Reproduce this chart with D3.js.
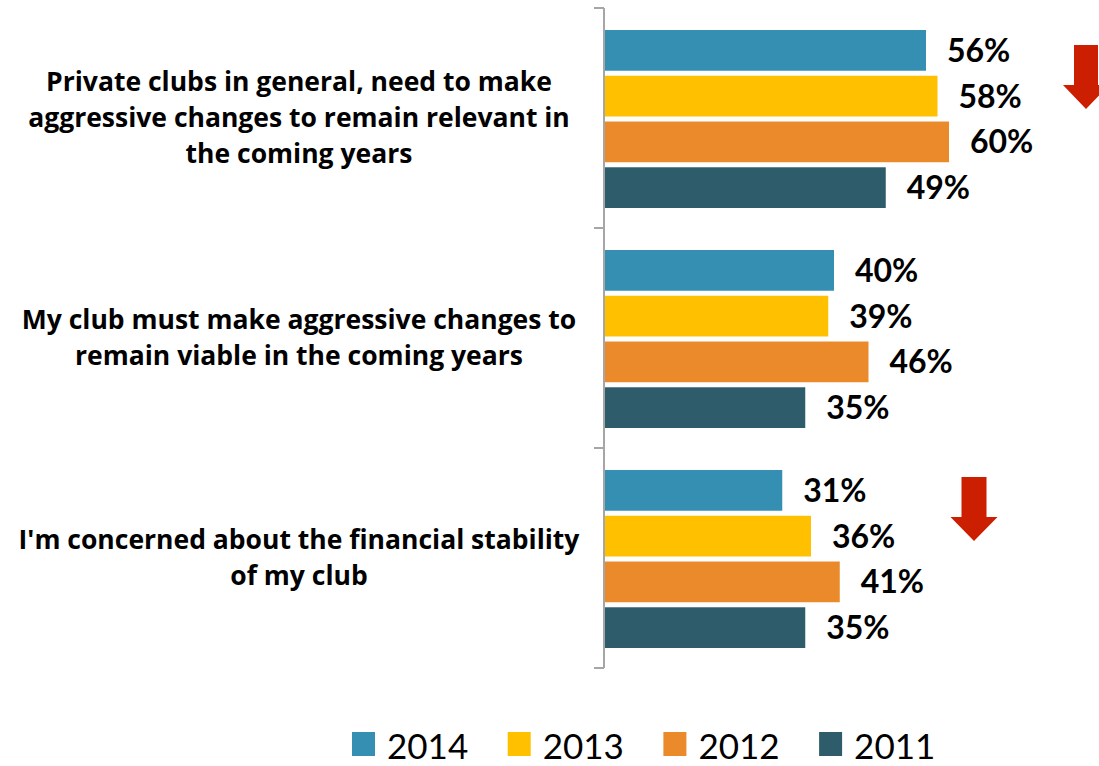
<!DOCTYPE html>
<html>
<head>
<meta charset="utf-8">
<script src="https://cdn.jsdelivr.net/npm/d3@7"></script>
<style>
  html, body { margin: 0; padding: 0; background: #fff; }
  svg { display: block; }
</style>
</head>
<body>
<svg id="chart" width="1099" height="766"></svg>
<script>
// Survey statements (top to bottom)
const categories = [
  "Private clubs in general, need to make aggressive changes to remain relevant in the coming years",
  "My club must make aggressive changes to remain viable in the coming years",
  "I'm concerned about the financial stability of my club"
];
// Wrapped label lines for each statement
const categoryLines = [
  ["Private clubs in general, need to make", "aggressive changes to remain relevant in", "the coming years"],
  ["My club must make aggressive changes to", "remain viable in the coming years"],
  ["I'm concerned about the financial stability", "of my club"]
];
const years = ["2014", "2013", "2012", "2011"];
const values2014 = [56, 40, 31];
const values2013 = [58, 39, 36];
const values2012 = [60, 46, 41];
const values2011 = [49, 35, 35];
// Statements flagged with a downward trend arrow
const declining = [true, false, true];

const seriesValues = [values2014, values2013, values2012, values2011];
const colors = ["#358FB2", "#FFC000", "#EA8A2A", "#2E5C6A"];

const svg = d3.select("#chart");
const axisX = 604;
const plotTop = 8, plotBottom = 668;

const x = d3.scaleLinear().domain([0, 60]).range([axisX, axisX + 345]);
const y0 = d3.scaleBand().domain(d3.range(categories.length)).range([plotTop, plotBottom]).paddingInner(0).paddingOuter(0);
const y1 = d3.scaleBand().domain(years).range([22, y0.bandwidth() - 20]).paddingInner(0.11).paddingOuter(0);

// Bars
const groups = svg.selectAll("g.cat").data(categories).join("g")
  .attr("class", "cat")
  .attr("transform", (d, i) => `translate(0,${y0(i)})`);

groups.each(function(cat, ci) {
  const g = d3.select(this);
  years.forEach((yr, si) => {
    const v = seriesValues[si][ci];
    g.append("rect")
      .attr("x", x(0))
      .attr("y", y1(yr))
      .attr("width", x(v) - x(0))
      .attr("height", y1.bandwidth())
      .attr("fill", colors[si]);
    g.append("text")
      .attr("x", x(v) + 21)
      .attr("y", y1(yr) + y1.bandwidth() / 2)
      .attr("dy", "0.36em")
      .attr("font-family", "Lato, 'Open Sans', sans-serif")
      .attr("font-weight", "bold")
      .attr("font-size", 32)
      .attr("fill", "#000")
      .text(v + "%");
  });

  // Category label
  const lines = categoryLines[ci];
  const lh = 36;
  const cy = y0.bandwidth() / 2;
  const t = g.append("text")
    .attr("text-anchor", "middle")
    .attr("font-family", "'Open Sans', Lato, sans-serif")
    .attr("font-weight", "bold")
    .attr("font-size", 26.5)
    .attr("fill", "#000");
  lines.forEach((ln, li) => {
    t.append("tspan")
      .attr("x", 299)
      .attr("y", cy + (li - (lines.length - 1) / 2) * lh)
      .attr("dy", "0.35em")
      .text(ln);
  });
});

// Category axis with outward ticks at band boundaries
const axisG = svg.append("g").attr("stroke", "#A6A6A6").attr("stroke-width", 2).attr("fill", "none");
axisG.append("line").attr("x1", axisX).attr("x2", axisX).attr("y1", plotTop).attr("y2", plotBottom);
const boundaries = d3.range(categories.length + 1).map(i => i < categories.length ? y0(i) : plotBottom);
axisG.selectAll("line.tick").data(boundaries).join("line")
  .attr("class", "tick")
  .attr("x1", axisX - 10).attr("x2", axisX)
  .attr("y1", d => d).attr("y2", d => d);

// Trend arrows
const arrowSpecs = [
  { cx: 1086, top: 45, headTop: 85, tip: 109, shaft: 12, head: 23 },
  { cx: 974, top: 477, headTop: 517, tip: 541, shaft: 12.5, head: 23.5 }
];
const arrowData = declining.map((d, i) => d ? i : null).filter(d => d !== null);
arrowData.forEach((ci, k) => {
  const a = arrowSpecs[k];
  const p = [
    [a.cx - a.shaft, a.top], [a.cx + a.shaft, a.top], [a.cx + a.shaft, a.headTop],
    [a.cx + a.head, a.headTop], [a.cx, a.tip], [a.cx - a.head, a.headTop],
    [a.cx - a.shaft, a.headTop]
  ];
  svg.append("path").attr("d", d3.line()(p) + "Z").attr("fill", "#CC1E00");
});

// Legend
const legend = svg.append("g");
years.forEach((yr, i) => {
  const lx = 352 + i * 155.7;
  legend.append("rect").attr("x", lx).attr("y", 732).attr("width", 23).attr("height", 24).attr("fill", colors[i]);
  legend.append("text")
    .attr("x", lx + 35).attr("y", 759)
    .attr("font-family", "Lato, 'Open Sans', sans-serif")
    .attr("font-size", 35)
    .attr("fill", "#000")
    .text(yr);
});
</script>
</body>
</html>
